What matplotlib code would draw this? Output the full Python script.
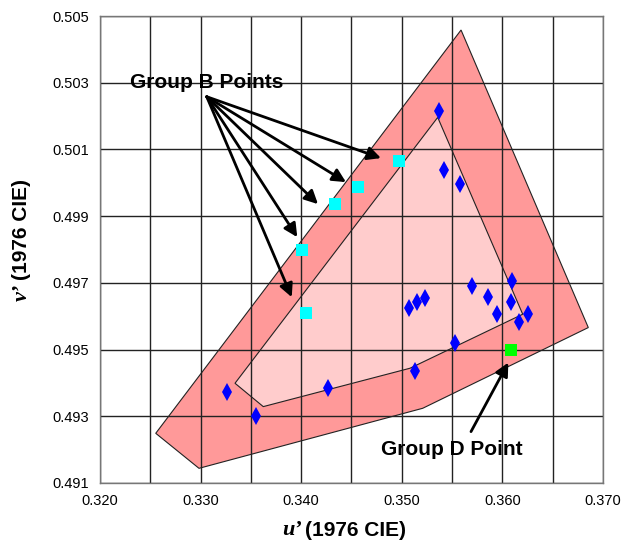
import matplotlib
matplotlib.use("Agg")
import matplotlib.pyplot as plt
from matplotlib.patches import Polygon

# outer (tolerance) quadrilateral
outer_u = [0.32554, 0.32984, 0.35208, 0.36854, 0.35589]
outer_v = [0.49249, 0.49144, 0.49324, 0.49566, 0.50458]

# inner quadrilateral
inner_u = [0.33342, 0.33623, 0.35081, 0.36202, 0.35357]
inner_v = [0.49399, 0.49329, 0.49444, 0.49606, 0.50196]

# measured points (blue diamonds)
pts_u = [0.35373, 0.35423, 0.35579, 0.33262, 0.33548, 0.34263, 0.35075, 0.35154,
         0.35234, 0.35701, 0.35854, 0.35943, 0.36098, 0.36085, 0.36168, 0.36257,
         0.35526, 0.35128]
pts_v = [0.50216, 0.50038, 0.49996, 0.49374, 0.49301, 0.49384, 0.49624, 0.49642,
         0.49655, 0.49691, 0.49657, 0.49606, 0.49706, 0.49642, 0.49584, 0.49606,
         0.49521, 0.49435]

# group B points (cyan squares)
grpb_u = [0.34969, 0.34568, 0.34336, 0.34005, 0.34051]
grpb_v = [0.50066, 0.49986, 0.49936, 0.49799, 0.49609]

# group D point (green square)
grpd_u = [0.36089]
grpd_v = [0.49499]

# arrow tips for the group B label
tip_u = [0.34793, 0.34445, 0.34167, 0.33961, 0.33906]
tip_v = [0.50074, 0.50002, 0.49936, 0.49837, 0.49657]

xticks = [0.320, 0.330, 0.340, 0.350, 0.360, 0.370]
yticks = [0.491, 0.493, 0.495, 0.497, 0.499, 0.501, 0.503, 0.505]

plt.rcParams["font.family"] = ["Liberation Sans", "DejaVu Sans"]

fig = plt.figure(figsize=(6.27, 5.52), dpi=100)
ax = fig.add_axes([0.1595, 0.125, 0.8022, 0.846])

ax.add_patch(Polygon(list(zip(outer_u, outer_v)), closed=True, facecolor="#FF9999",
                     edgecolor="#222222", linewidth=0.8, zorder=1))
ax.add_patch(Polygon(list(zip(inner_u, inner_v)), closed=True, facecolor="#FFCCCC",
                     edgecolor="#222222", linewidth=0.8, zorder=1.1))

ax.plot(pts_u, pts_v, "d", color="#0000FF", markersize=9, markeredgewidth=0, zorder=3)
ax.plot(grpb_u, grpb_v, "s", color="#00FFFF", markersize=9, markeredgewidth=0, zorder=3)
ax.plot(grpd_u, grpd_v, "s", color="#00FF00", markersize=9, markeredgewidth=0, zorder=3)

# labels with arrows
for u, v in zip(tip_u, tip_v):
    ax.annotate("", xy=(u, v), xytext=(0.33061, 0.50258),
                arrowprops=dict(arrowstyle="-|>", color="black", lw=2,
                                mutation_scale=20, shrinkA=0, shrinkB=0), zorder=4)
ax.text(0.33061, 0.50302, "Group B Points", ha="center", va="center",
        fontsize=15, fontweight="bold", zorder=5)

ax.annotate("", xy=(0.36059, 0.49461), xytext=(0.35688, 0.49254),
            arrowprops=dict(arrowstyle="-|>", color="black", lw=2,
                            mutation_scale=20, shrinkA=0, shrinkB=0), zorder=4)
ax.text(0.35499, 0.49199, "Group D Point", ha="center", va="center",
        fontsize=15, fontweight="bold", zorder=5)

ax.set_xlim(0.320, 0.370)
ax.set_ylim(0.491, 0.505)
ax.set_xticks([0.320 + 0.005 * i for i in range(11)], minor=False)
ax.set_xticklabels(["%.3f" % t if i % 2 == 0 else "" for i, t in
                    enumerate([0.320 + 0.005 * i for i in range(11)])])
ax.set_yticks(yticks)
ax.set_yticklabels(["%.3f" % t for t in yticks])
ax.tick_params(length=0, labelsize=10.5, pad=8)
ax.grid(True, color="#222222", linewidth=1.0)
for s in ax.spines.values():
    s.set_color("#777777")
    s.set_linewidth(1.0)

# axis labels: italic serif symbol + sans text
fig.text(302 / 627, 1 - 530 / 552, "u’", ha="right", va="center", fontsize=16,
         family="Liberation Serif", style="italic", fontweight="bold")
fig.text(305 / 627, 1 - 530 / 552, "(1976 CIE)", ha="left", va="center",
         fontsize=15, fontweight="bold")
fig.text(22 / 627, 1 - 284 / 552, "v’", ha="center", va="top", rotation=90,
         fontsize=16, family="Liberation Serif", style="italic", fontweight="bold")
fig.text(22 / 627, 1 - 280 / 552, "(1976 CIE)", ha="center", va="bottom",
         rotation=90, fontsize=15, fontweight="bold")

fig.savefig("out.png", dpi=100)
